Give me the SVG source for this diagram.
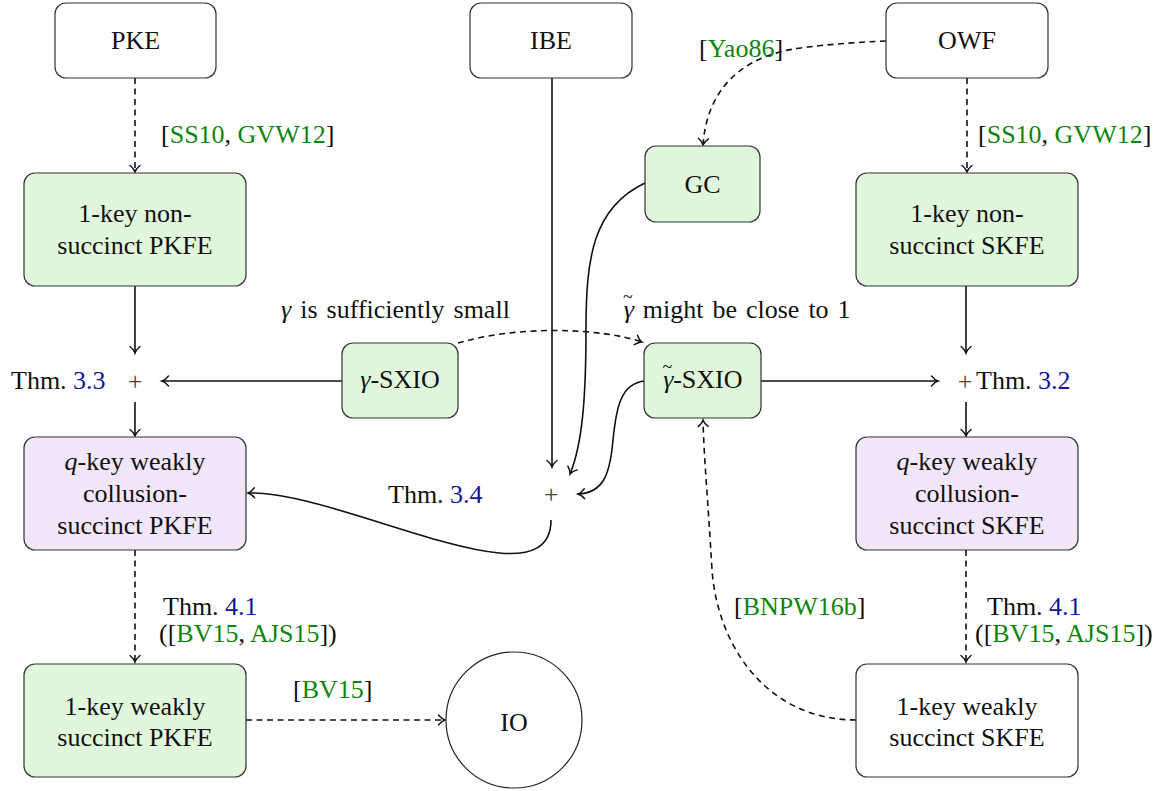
<svg xmlns="http://www.w3.org/2000/svg" width="1165" height="791" viewBox="0 0 1165 791" font-family="Liberation Serif, serif" font-size="26">
<style>
text{font-family:"Liberation Serif",serif;font-size:26px;fill:#111}
.c{text-anchor:middle}
.g{fill:#0d860d}
.b{fill:#14149a}
.box{stroke:#333;stroke-width:1.2}
.w{fill:#fff}
.gr{fill:#e1f7dc}
.pu{fill:#f2e6fb}
.e{fill:none;stroke:#111;stroke-width:1.6;marker-end:url(#ar)}
.d{stroke-dasharray:6,4.5}
.i{font-style:italic}
.ws{word-spacing:2.5px}
.p{fill:#444}
</style>
<defs>
<marker id="ar" markerUnits="userSpaceOnUse" viewBox="-9 -7 11 14" refX="0" refY="0" markerWidth="11" markerHeight="14" orient="auto" overflow="visible">
<path d="M-6.5,-5 C-4,-2 -1.5,-0.4 0,0 C-1.5,0.4 -4,2 -6.5,5" fill="none" stroke="#111" stroke-width="1.4" stroke-linecap="round"/>
</marker>
</defs>
<rect width="1165" height="791" fill="#fff"/>
<g id="connectors">
<path class="e d" d="M135,78 L135,172"/>
<path class="e d" d="M967,78 L967,172"/>
<path class="e d" d="M886,41 C840,43 800,47 784,51 C740,61 707,90 703,145"/>
<path class="e" d="M135,286 L135,353"/>
<path class="e" d="M135,402 L135,436"/>
<path class="e" d="M342,381 L162,381"/>
<path class="e d" d="M458,343 C520,325 600,328 642,342"/>
<path class="e" d="M552,78 L552,467"/>
<path class="e" d="M645,183 C592,208 586,260 586,330 C586,400 582,445 570,474"/>
<path class="e" d="M645,381 C620,383 616,410 613,440 C610,475 603,493 578,494"/>
<path class="e" d="M551,520 C551,610 340,490 248,493"/>
<path class="e d" d="M135,550 L135,662"/>
<path class="e d" d="M246,720 L445,720"/>
<path class="e" d="M761,381 L938,381"/>
<path class="e" d="M966,286 L966,353"/>
<path class="e" d="M966,402 L966,436"/>
<path class="e d" d="M966,550 L966,662"/>
<path class="e d" d="M856,720 C770,720 718,650 712,570 C708,500 704,460 703,420"/>
</g>
<g id="labels">
<text x="161" y="143">[<tspan class="g">SS10</tspan>, <tspan class="g">GVW12</tspan>]</text>
<text x="978" y="143">[<tspan class="g">SS10</tspan>, <tspan class="g">GVW12</tspan>]</text>
<text x="699" y="57">[<tspan class="g">Yao86</tspan>]</text>
<text x="281" y="318" class="ws"><tspan class="i">γ</tspan> is sufficiently small</text>
<text x="623" y="318" class="ws"><tspan class="i">γ</tspan><tspan dx="-11" dy="-15" font-size="18">~</tspan><tspan dx="1" dy="15"> might be close to 1</tspan></text>
<text x="11" y="389">Thm. <tspan class="b">3.3</tspan></text>
<text x="135" y="390" class="c p">+</text>
<text x="965" y="390" class="c p">+</text>
<text x="976" y="389">Thm. <tspan class="b">3.2</tspan></text>
<text x="388" y="503">Thm. <tspan class="b">3.4</tspan></text>
<text x="551" y="503" class="c p">+</text>
<text x="163" y="615">Thm. <tspan class="b">4.1</tspan></text>
<text x="159" y="642">([<tspan class="g">BV15</tspan>, <tspan class="g">AJS15</tspan>])</text>
<text x="987" y="615">Thm. <tspan class="b">4.1</tspan></text>
<text x="975" y="642">([<tspan class="g">BV15</tspan>, <tspan class="g">AJS15</tspan>])</text>
<text x="293" y="698">[<tspan class="g">BV15</tspan>]</text>
<text x="734" y="615">[<tspan class="g">BNPW16b</tspan>]</text>
</g>
<g id="PKE"><rect class="box w" x="55" y="3" width="161" height="75" rx="11"/><text x="135.5" y="49" class="c">PKE</text></g>
<g id="IBE"><rect class="box w" x="470" y="3" width="162" height="75" rx="11"/><text x="551" y="49" class="c">IBE</text></g>
<g id="OWF"><rect class="box w" x="886" y="3" width="162" height="75" rx="11"/><text x="967" y="49" class="c">OWF</text></g>
<g id="GC"><rect class="box gr" x="645" y="146" width="115" height="76" rx="11"/><text x="702.5" y="193" class="c">GC</text></g>
<g id="PKFE1"><rect class="box gr" x="24" y="173" width="222" height="113" rx="11"/><text x="135" y="222" class="c">1-key non-</text><text x="135" y="254" class="c">succinct PKFE</text></g>
<g id="SKFE1"><rect class="box gr" x="856" y="173" width="222" height="113" rx="11"/><text x="967" y="222" class="c">1-key non-</text><text x="967" y="254" class="c">succinct SKFE</text></g>
<g id="SXIO"><rect class="box gr" x="342" y="343" width="116" height="75" rx="11"/><text x="400" y="388" class="c"><tspan class="i">γ</tspan>-SXIO</text></g>
<g id="tSXIO"><rect class="box gr" x="644" y="343" width="117" height="75" rx="11"/><text x="702.5" y="388" class="c"><tspan class="i">γ</tspan><tspan dx="-11" dy="-15" font-size="18">~</tspan><tspan dx="1" dy="15">-SXIO</tspan></text></g>
<g id="qPKFE"><rect class="box pu" x="24" y="437" width="222" height="113" rx="11"/><text x="135" y="470" class="c"><tspan class="i">q</tspan>-key weakly</text><text x="135" y="502" class="c">collusion-</text><text x="135" y="534" class="c">succinct PKFE</text></g>
<g id="qSKFE"><rect class="box pu" x="856" y="437" width="222" height="113" rx="11"/><text x="967" y="470" class="c"><tspan class="i">q</tspan>-key weakly</text><text x="967" y="502" class="c">collusion-</text><text x="967" y="534" class="c">succinct SKFE</text></g>
<g id="wPKFE"><rect class="box gr" x="24" y="664" width="222" height="113" rx="11"/><text x="135" y="715" class="c">1-key weakly</text><text x="135" y="746" class="c">succinct PKFE</text></g>
<g id="wSKFE"><rect class="box w" x="856" y="664" width="222" height="113" rx="11"/><text x="967" y="715" class="c">1-key weakly</text><text x="967" y="746" class="c">succinct SKFE</text></g>
<g id="IO"><circle cx="514" cy="720" r="68" fill="#fff" stroke="#222" stroke-width="1.2"/><text x="514" y="731" class="c">IO</text></g>
</svg>
